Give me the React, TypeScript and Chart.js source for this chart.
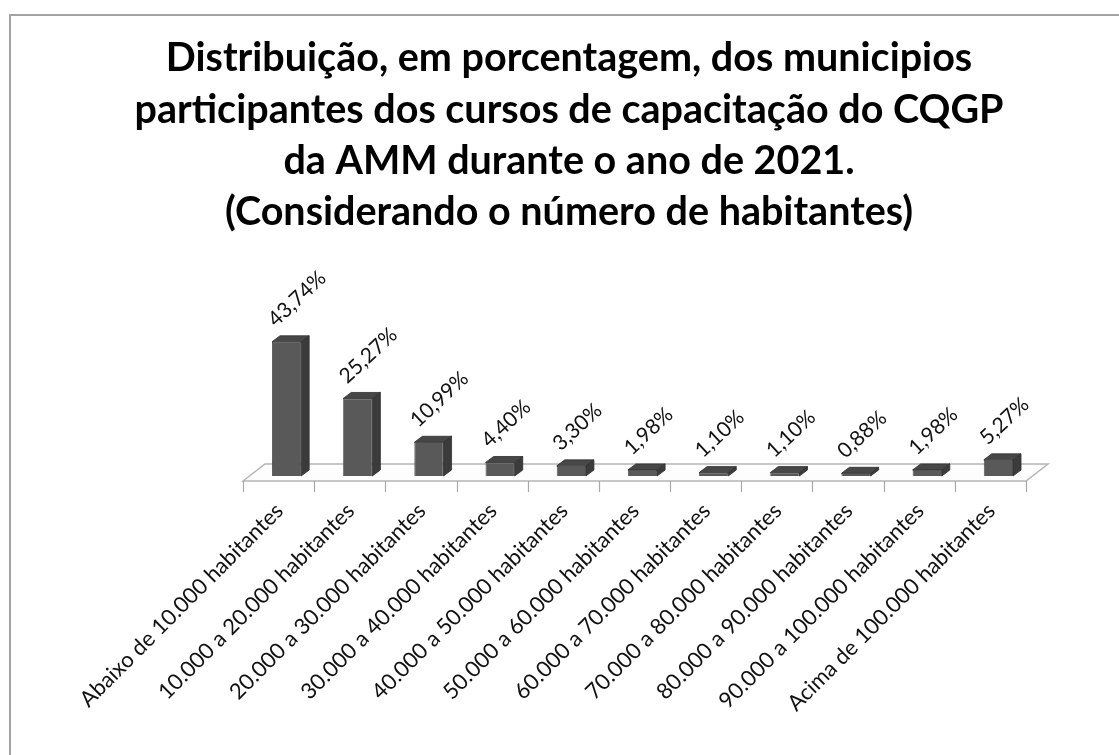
import React, { useEffect, useRef } from "react";
import { Chart, registerables } from "chart.js";

Chart.register(...registerables);

const titleLines = [
  "Distribuição, em porcentagem, dos municipios",
  "participantes dos cursos de capacitação do CQGP",
  "da AMM durante o ano de 2021.",
  "(Considerando o número de habitantes)",
];

const categories = [
  "Abaixo de 10.000 habitantes",
  "10.000 a 20.000 habitantes",
  "20.000 a 30.000 habitantes",
  "30.000 a 40.000 habitantes",
  "40.000 a 50.000 habitantes",
  "50.000 a 60.000 habitantes",
  "60.000 a 70.000 habitantes",
  "70.000 a 80.000 habitantes",
  "80.000 a 90.000 habitantes",
  "90.000 a 100.000 habitantes",
  "Acima de 100.000 habitantes",
];

const percentages = [43.74, 25.27, 10.99, 4.4, 3.3, 1.98, 1.1, 1.1, 0.88, 1.98, 5.27];

const FONT = "Lato, 'Open Sans', sans-serif";
const W = 1119;
const H = 755;

const fmt = (v: number) => v.toFixed(2).replace(".", ",") + "%";

const threeD = {
  id: "threeD",
  beforeDatasetsDraw(chart: any) {
    const { ctx, chartArea } = chart;
    const { left, right, bottom } = chartArea;
    const xs = chart.scales.x;
    const n = chart.data.labels.length;
    const step = (right - left) / n;
    const fl = left - 8;
    const fr = right - 8;
    const fy = bottom + 5;
    const bl = left + 14;
    const br = right + 14;
    const by = bottom - 12;
    ctx.save();
    ctx.beginPath();
    ctx.moveTo(fl, fy);
    ctx.lineTo(bl, by);
    ctx.lineTo(br, by);
    ctx.lineTo(fr, fy);
    ctx.closePath();
    ctx.fillStyle = "#fdfdfd";
    ctx.fill();
    ctx.strokeStyle = "#b5b5b5";
    ctx.lineWidth = 1.5;
    ctx.stroke();
    ctx.beginPath();
    for (let k = 0; k <= n; k++) {
      const tx = Math.round(xs.getPixelForValue(k) - step / 2 - 8) + 0.5;
      ctx.moveTo(tx, fy);
      ctx.lineTo(tx, fy + 11);
    }
    ctx.lineWidth = 1.2;
    ctx.strokeStyle = "#a8a8a8";
    ctx.stroke();
    ctx.restore();
  },
  afterDatasetsDraw(chart: any) {
    const { ctx } = chart;
    const meta = chart.getDatasetMeta(0);
    const dx = 8;
    const dy = 6;
    ctx.save();
    meta.data.forEach((bar: any, i: number) => {
      const { x, y, base, width } = bar.getProps(["x", "y", "base", "width"], true);
      const l = x - width / 2;
      const r = x + width / 2;
      ctx.beginPath();
      ctx.moveTo(r, y);
      ctx.lineTo(r + dx, y - dy);
      ctx.lineTo(r + dx, base - dy);
      ctx.lineTo(r, base);
      ctx.closePath();
      ctx.fillStyle = "#3b3b3b";
      ctx.fill();
      ctx.strokeStyle = "#2e2e2e";
      ctx.lineWidth = 0.8;
      ctx.stroke();
      ctx.beginPath();
      ctx.moveTo(l, y);
      ctx.lineTo(l + dx, y - dy);
      ctx.lineTo(r + dx, y - dy);
      ctx.lineTo(r, y);
      ctx.closePath();
      ctx.fillStyle = "#474747";
      ctx.fill();
      ctx.stroke();
      ctx.save();
      ctx.translate(l + 4, y - 14);
      ctx.rotate((-43 * Math.PI) / 180);
      ctx.font = `21px ${FONT}`;
      ctx.fillStyle = "#111";
      ctx.textAlign = "left";
      ctx.textBaseline = "alphabetic";
      ctx.fillText(fmt(chart.data.datasets[0].data[i]), 0, 0);
      ctx.restore();
    });
    ctx.restore();
  },
};

export default function App() {
  const ref = useRef<HTMLCanvasElement | null>(null);
  useEffect(() => {
    if (!ref.current) return;
    const chart = new Chart(ref.current, {
      type: "bar",
      data: {
        labels: categories,
        datasets: [
          {
            data: percentages,
            backgroundColor: "#595959",
            borderColor: "#3c3c3c",
            borderWidth: 0.8,
            barPercentage: 0.41,
            categoryPercentage: 1,
          },
        ],
      },
      options: {
        responsive: false,
        animation: false,
        devicePixelRatio: 1,
        layout: { padding: { top: 33, left: 19, right: 0, bottom: 0 } },
        plugins: {
          legend: { display: false },
          tooltip: { enabled: false },
          title: {
            display: true,
            text: titleLines,
            color: "#000",
            font: { family: FONT, size: 39.5, weight: "bold", lineHeight: 1.3 },
            padding: { top: 0, bottom: 36 },
          },
        },
        scales: {
          x: {
            grid: { display: false, drawTicks: false },
            border: { display: false },
            ticks: {
              autoSkip: false,
              maxRotation: 45,
              minRotation: 45,
              padding: 22,
              labelOffset: -7,
              color: "#111",
              font: { family: FONT, size: 22 },
            },
            afterFit: (scale: any) => {
              scale.height = H - 476;
            },
          },
          y: {
            display: true,
            min: 0,
            max: 65.7,
            ticks: { display: false },
            grid: { display: false },
            border: { display: false },
            afterFit: (scale: any) => {
              scale.width = 232;
            },
          },
          y2: {
            display: true,
            position: "right",
            ticks: { display: false },
            grid: { display: false },
            border: { display: false },
            afterFit: (scale: any) => {
              scale.width = 85;
            },
          },
        },
      },
      plugins: [threeD],
    });
    return () => chart.destroy();
  }, []);
  return (
    <div style={{ position: "absolute", left: 0, top: 0, width: W, height: H, overflow: "hidden", background: "#fff" }}>
      <div
        style={{
          position: "absolute",
          left: 9,
          top: 14,
          width: W,
          height: H,
          borderLeft: "2px solid #a3a3a3",
          borderTop: "2px solid #a3a3a3",
        }}
      />
      <canvas ref={ref} width={W} height={H} style={{ position: "absolute", left: 0, top: 0 }} />
    </div>
  );
}
